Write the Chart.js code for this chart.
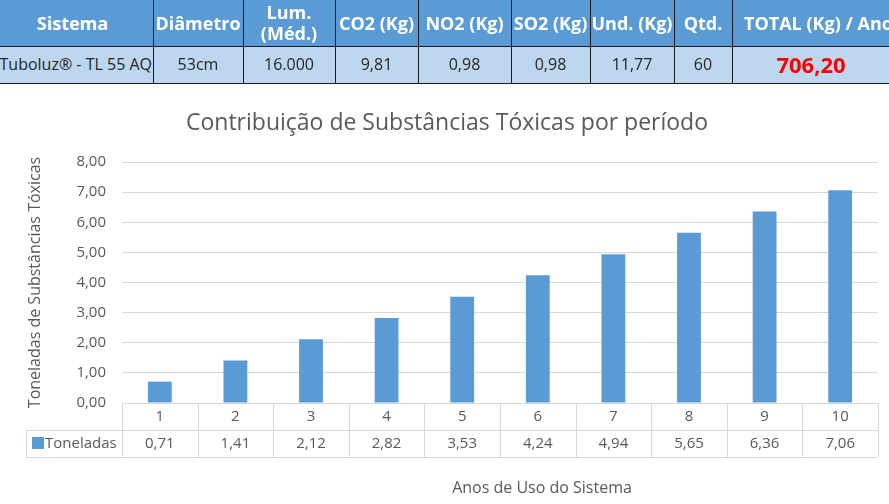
<!DOCTYPE html>
<html>
<head>
<meta charset="utf-8">
<script src="https://cdn.jsdelivr.net/npm/chart.js@4.4.0/dist/chart.umd.min.js"></script>
<style>
  html, body { margin:0; padding:0; background:#fff; }
  body { width:889px; height:504px; position:relative; overflow:hidden; font-family:"Open Sans", sans-serif; }
  #wrap { position:absolute; left:0; top:0; width:889px; height:504px; }
  #tbl { position:absolute; left:0; top:0; width:889px; height:84px; z-index:2; }
  .cell { position:absolute; display:flex; align-items:center; justify-content:center; text-align:center; box-sizing:border-box; white-space:nowrap; overflow:hidden; line-height:1.15; }
  .hd { background:#5B9BD5; color:#fff; font-weight:bold; font-size:18px; }
  .dt { background:#BDD7EE; color:#262626; font-size:16px; }
  .vline { position:absolute; width:1px; background:#1a1a1a; top:0; height:84px; }
  .hline { position:absolute; height:1px; background:#1a1a1a; left:0; width:889px; }
</style>
</head>
<body>
<div id="tbl"></div>
<div id="wrap"><canvas id="c" width="889" height="504"></canvas></div>
<script>
// ---- data ----
const headerLabels = ['Sistema', 'Diâmetro', 'Lum.<br>(Méd.)', 'CO2 (Kg)', 'NO2 (Kg)', 'SO2 (Kg)', 'Und. (Kg)', 'Qtd.', 'TOTAL (Kg) / Ano'];
const rowValues = ['Tuboluz® - TL 55 AQ', '53cm', '16.000', '9,81', '0,98', '0,98', '11,77', '60', '706,20'];
const categories = ['1', '2', '3', '4', '5', '6', '7', '8', '9', '10'];
const toneladas = [0.71, 1.41, 2.12, 2.82, 3.53, 4.24, 4.94, 5.65, 6.36, 7.06];
const yTickValues = [0, 1, 2, 3, 4, 5, 6, 7, 8];
const seriesName = 'Toneladas';
const chartTitle = 'Contribuição de Substâncias Tóxicas por período';
const yTitle = 'Toneladas de Substâncias Tóxicas';
const xTitle = 'Anos de Uso do Sistema';

// ---- top table (layout) ----
const colEdges = [-8, 153, 243, 335, 418, 511, 590, 674, 732, 888];
const tbl = document.getElementById('tbl');
for (let i = 0; i < headerLabels.length; i++) {
  const l = colEdges[i], w = colEdges[i + 1] - colEdges[i];
  const h = document.createElement('div');
  h.className = 'cell hd';
  h.style.cssText = `left:${l}px;top:0;width:${w}px;height:46px;`;
  h.innerHTML = headerLabels[i];
  if (i === headerLabels.length - 1) { h.style.justifyContent = 'flex-start'; h.style.paddingLeft = '12px'; h.style.width = (w + 20) + 'px'; }
  tbl.appendChild(h);
  const d = document.createElement('div');
  d.className = 'cell dt';
  d.style.cssText = `left:${l}px;top:46px;width:${w}px;height:37px;`;
  d.textContent = rowValues[i];
  if (i === headerLabels.length - 1) { d.style.color = '#FF0000'; d.style.fontWeight = 'bold'; d.style.fontSize = '22px'; d.style.width = (w + 2) + 'px'; }
  if (i === 0) { d.style.justifyContent = 'flex-end'; d.style.paddingRight = '1px'; }
  tbl.appendChild(d);
}
for (let i = 1; i < colEdges.length - 1; i++) {
  const v = document.createElement('div');
  v.className = 'vline';
  v.style.left = colEdges[i] + 'px';
  tbl.appendChild(v);
}
[46, 83].forEach(y => { const hl = document.createElement('div'); hl.className = 'hline'; hl.style.top = y + 'px'; tbl.appendChild(hl); });

// ---- chart ----
const fmt = v => Number(v).toFixed(2).replace('.', ',');
const txtColor = '#595959';
const lineColor = '#D9D9D9';
const barColor = '#5B9BD5';

const dataTablePlugin = {
  id: 'dataTable',
  afterDraw(chart) {
    const { ctx, chartArea } = chart;
    const xs = chart.scales.x;
    const n = categories.length;
    const left = chartArea.left, right = chartArea.right;
    const cw = (right - left) / n;
    const y0 = chartArea.bottom, rowH = 27;
    const y1 = y0 + rowH, y2 = y1 + rowH;
    const tLeft = 26;
    ctx.save();
    // chart title
    ctx.fillStyle = txtColor;
    ctx.font = '23px "Open Sans"';
    ctx.textAlign = 'center';
    ctx.textBaseline = 'middle';
    ctx.fillText(chartTitle, 447, chartArea.top - 39);

    ctx.strokeStyle = lineColor;
    ctx.lineWidth = 1;
    ctx.beginPath();
    const hl = (xa, xb, y) => { ctx.moveTo(xa, Math.round(y) + 0.5); ctx.lineTo(xb, Math.round(y) + 0.5); };
    const vl = (x, ya, yb) => { ctx.moveTo(Math.round(x) + 0.5, ya); ctx.lineTo(Math.round(x) + 0.5, yb); };
    hl(left, right, y0);
    hl(tLeft, right, y1);
    hl(tLeft, right, y2);
    for (let i = 0; i <= n; i++) vl(left + i * cw, y0, y2);
    vl(tLeft, y1, y2);
    ctx.stroke();

    ctx.fillStyle = txtColor;
    ctx.font = '15px "Open Sans"';
    for (let i = 0; i < n; i++) {
      const cx = xs.getPixelForValue(i);
      ctx.fillText(categories[i], cx, y0 + rowH / 2);
      ctx.fillText(fmt(toneladas[i]), cx, y1 + rowH / 2);
    }
    // legend key
    ctx.fillStyle = barColor;
    ctx.fillRect(32, y1 + 7, 12, 12);
    ctx.fillStyle = txtColor;
    ctx.textAlign = 'left';
    ctx.fillText(seriesName, 45, y1 + rowH / 2);
    // x axis title
    ctx.font = '16px "Open Sans"';
    ctx.textAlign = 'center';
    ctx.fillText(xTitle, 542, y2 + 31);
    ctx.restore();
  }
};

new Chart(document.getElementById('c'), {
  type: 'bar',
  data: {
    labels: categories,
    datasets: [{
      label: seriesName,
      data: toneladas,
      backgroundColor: barColor,
      borderWidth: 0,
      categoryPercentage: 1,
      barPercentage: 0.315
    }]
  },
  options: {
    responsive: false,
    animation: false,
    layout: { padding: { top: 162, right: 11, bottom: 101, left: 0 } },
    plugins: {
      legend: { display: false },
      tooltip: { enabled: false },
      title: { display: false }
    },
    scales: {
      x: { display: false },
      y: {
        min: 0,
        max: 8,
        afterBuildTicks(scale) { scale.ticks = yTickValues.map(v => ({ value: v })); },
        afterFit(scale) { scale.width = 122; },
        ticks: {
          callback: v => fmt(v),
          color: txtColor,
          font: { family: 'Open Sans', size: 15 },
          padding: 16
        },
        grid: { color: lineColor, drawTicks: false },
        border: { display: false },
        title: {
          display: true,
          text: yTitle,
          color: txtColor,
          font: { family: 'Open Sans', size: 16 },
          padding: { top: 26, bottom: 0 }
        }
      }
    }
  },
  plugins: [dataTablePlugin]
});
</script>
</body>
</html>
